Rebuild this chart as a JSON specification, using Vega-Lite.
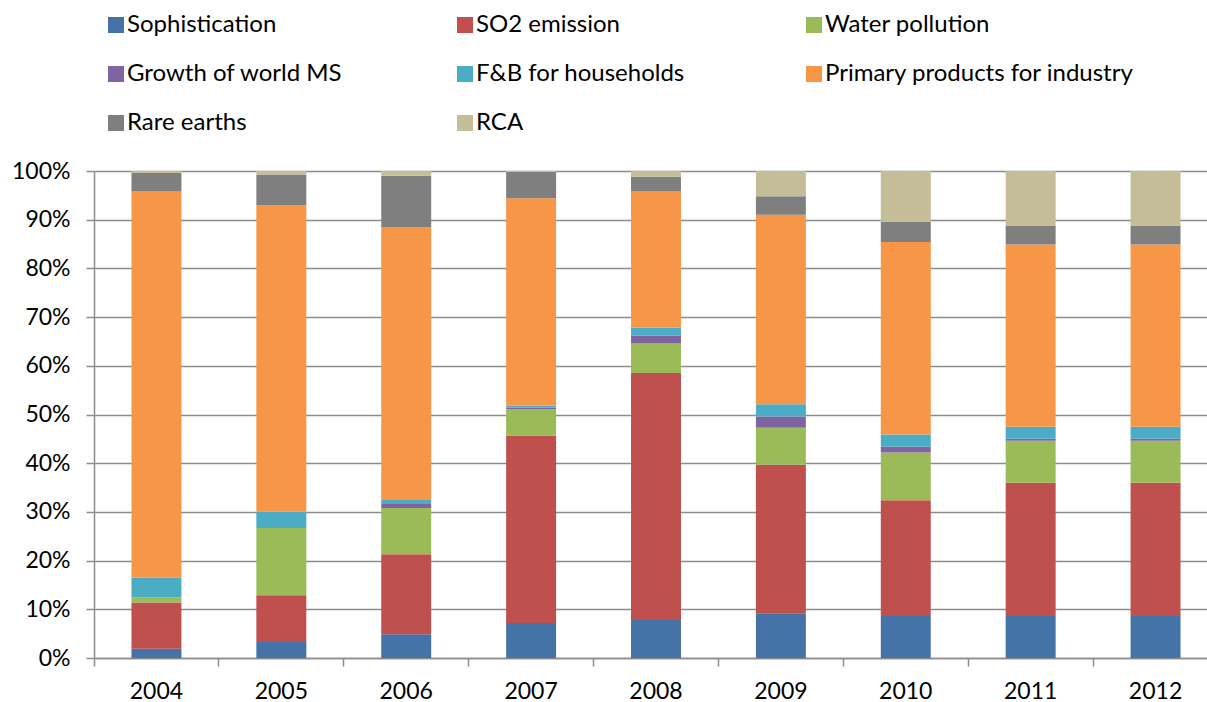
{
  "$schema": "https://vega.github.io/schema/vega-lite/v6.json",
  "autosize": {"type": "none"},
  "padding": {"left": 94, "top": 171, "right": 0, "bottom": 44},
  "width": 1113,
  "height": 487,
  "background": "white",
  "config": {
    "view": {"stroke": null},
    "font": "Lato",
    "axis": {"labelFont": "Lato", "labelFontSize": 23, "labelColor": "#000000"}
  },
  "datasets": {
    "shares": [
      {"year": "2004", "indicator": "Sophistication", "share": 1.9},
      {"year": "2004", "indicator": "SO2 emission", "share": 9.5},
      {"year": "2004", "indicator": "Water pollution", "share": 1.0},
      {"year": "2004", "indicator": "Growth of world MS", "share": 0.0},
      {"year": "2004", "indicator": "F&B for households", "share": 4.1},
      {"year": "2004", "indicator": "Primary products for industry", "share": 79.3},
      {"year": "2004", "indicator": "Rare earths", "share": 3.8},
      {"year": "2004", "indicator": "RCA", "share": 0.4},
      {"year": "2005", "indicator": "Sophistication", "share": 3.3},
      {"year": "2005", "indicator": "SO2 emission", "share": 9.6},
      {"year": "2005", "indicator": "Water pollution", "share": 13.8},
      {"year": "2005", "indicator": "Growth of world MS", "share": 0.0},
      {"year": "2005", "indicator": "F&B for households", "share": 3.4},
      {"year": "2005", "indicator": "Primary products for industry", "share": 62.9},
      {"year": "2005", "indicator": "Rare earths", "share": 6.3},
      {"year": "2005", "indicator": "RCA", "share": 0.7},
      {"year": "2006", "indicator": "Sophistication", "share": 4.9},
      {"year": "2006", "indicator": "SO2 emission", "share": 16.4},
      {"year": "2006", "indicator": "Water pollution", "share": 9.5},
      {"year": "2006", "indicator": "Growth of world MS", "share": 0.8},
      {"year": "2006", "indicator": "F&B for households", "share": 1.0},
      {"year": "2006", "indicator": "Primary products for industry", "share": 55.9},
      {"year": "2006", "indicator": "Rare earths", "share": 10.5},
      {"year": "2006", "indicator": "RCA", "share": 1.0},
      {"year": "2007", "indicator": "Sophistication", "share": 7.2},
      {"year": "2007", "indicator": "SO2 emission", "share": 38.5},
      {"year": "2007", "indicator": "Water pollution", "share": 5.4},
      {"year": "2007", "indicator": "Growth of world MS", "share": 0.3},
      {"year": "2007", "indicator": "F&B for households", "share": 0.4},
      {"year": "2007", "indicator": "Primary products for industry", "share": 42.6},
      {"year": "2007", "indicator": "Rare earths", "share": 5.4},
      {"year": "2007", "indicator": "RCA", "share": 0.2},
      {"year": "2008", "indicator": "Sophistication", "share": 7.8},
      {"year": "2008", "indicator": "SO2 emission", "share": 50.7},
      {"year": "2008", "indicator": "Water pollution", "share": 6.1},
      {"year": "2008", "indicator": "Growth of world MS", "share": 1.6},
      {"year": "2008", "indicator": "F&B for households", "share": 1.6},
      {"year": "2008", "indicator": "Primary products for industry", "share": 28.0},
      {"year": "2008", "indicator": "Rare earths", "share": 3.0},
      {"year": "2008", "indicator": "RCA", "share": 1.2},
      {"year": "2009", "indicator": "Sophistication", "share": 9.2},
      {"year": "2009", "indicator": "SO2 emission", "share": 30.5},
      {"year": "2009", "indicator": "Water pollution", "share": 7.6},
      {"year": "2009", "indicator": "Growth of world MS", "share": 2.3},
      {"year": "2009", "indicator": "F&B for households", "share": 2.5},
      {"year": "2009", "indicator": "Primary products for industry", "share": 38.9},
      {"year": "2009", "indicator": "Rare earths", "share": 3.8},
      {"year": "2009", "indicator": "RCA", "share": 5.2},
      {"year": "2010", "indicator": "Sophistication", "share": 8.6},
      {"year": "2010", "indicator": "SO2 emission", "share": 23.8},
      {"year": "2010", "indicator": "Water pollution", "share": 9.8},
      {"year": "2010", "indicator": "Growth of world MS", "share": 1.2},
      {"year": "2010", "indicator": "F&B for households", "share": 2.5},
      {"year": "2010", "indicator": "Primary products for industry", "share": 39.5},
      {"year": "2010", "indicator": "Rare earths", "share": 4.2},
      {"year": "2010", "indicator": "RCA", "share": 10.4},
      {"year": "2011", "indicator": "Sophistication", "share": 8.6},
      {"year": "2011", "indicator": "SO2 emission", "share": 27.4},
      {"year": "2011", "indicator": "Water pollution", "share": 8.6},
      {"year": "2011", "indicator": "Growth of world MS", "share": 0.4},
      {"year": "2011", "indicator": "F&B for households", "share": 2.5},
      {"year": "2011", "indicator": "Primary products for industry", "share": 37.4},
      {"year": "2011", "indicator": "Rare earths", "share": 3.9},
      {"year": "2011", "indicator": "RCA", "share": 11.2},
      {"year": "2012", "indicator": "Sophistication", "share": 8.6},
      {"year": "2012", "indicator": "SO2 emission", "share": 27.4},
      {"year": "2012", "indicator": "Water pollution", "share": 8.6},
      {"year": "2012", "indicator": "Growth of world MS", "share": 0.4},
      {"year": "2012", "indicator": "F&B for households", "share": 2.5},
      {"year": "2012", "indicator": "Primary products for industry", "share": 37.4},
      {"year": "2012", "indicator": "Rare earths", "share": 3.9},
      {"year": "2012", "indicator": "RCA", "share": 11.2}
    ]
  },
  "data": {"name": "shares"},
  "transform": [
    {"window": [{"op": "row_number", "as": "stack_rank"}], "groupby": ["year"]}
  ],
  "mark": {"type": "bar"},
  "encoding": {
    "x": {
      "field": "year",
      "type": "nominal",
      "title": null,
      "scale": {"range": [0, 1124], "paddingInner": 0.6, "paddingOuter": 0.3},
      "axis": {
        "labelAngle": 0,
        "bandPosition": -0.75,
        "labelOffset": 0,
        "domainColor": "#8c8c8c",
        "domainWidth": 1.5,
        "tickColor": "#8c8c8c",
        "tickWidth": 1.5,
        "tickSize": 8,
        "labelPadding": 14,
        "grid": false
      }
    },
    "y": {
      "field": "share",
      "type": "quantitative",
      "stack": "normalize",
      "title": null,
      "scale": {"domain": [0, 1]},
      "axis": {
        "values": [0, 0.1, 0.2, 0.3, 0.4, 0.5, 0.6, 0.7, 0.8, 0.9, 1],
        "format": ".0%",
        "domainColor": "#8c8c8c",
        "domainWidth": 1.5,
        "tickColor": "#8c8c8c",
        "tickWidth": 1.5,
        "tickSize": 8,
        "labelPadding": 16,
        "gridColor": "#8c8c8c",
        "gridWidth": 1.5
      }
    },
    "color": {
      "field": "indicator",
      "type": "nominal",
      "sort": ["Sophistication", "SO2 emission", "Water pollution", "Growth of world MS", "F&B for households", "Primary products for industry", "Rare earths", "RCA"],
      "scale": {
        "domain": ["Sophistication", "SO2 emission", "Water pollution", "Growth of world MS", "F&B for households", "Primary products for industry", "Rare earths", "RCA"],
        "range": ["#4572A7", "#C0504D", "#9BBB59", "#8064A2", "#4BACC6", "#F79646", "#7F7F7F", "#C4BD97"]
      },
      "legend": {
        "title": null,
        "orient": "none",
        "legendX": 10,
        "legendY": -158,
        "direction": "horizontal",
        "columns": 3,
        "gridAlign": "all",
        "columnPadding": 17,
        "rowPadding": 25,
        "padding": 0,
        "symbolType": "square",
        "symbolSize": 256,
        "symbolStrokeWidth": 0,
        "labelFont": "Lato",
        "labelFontSize": 24,
        "labelColor": "#000000",
        "labelOffset": -1,
        "labelLimit": 400
      }
    },
    "order": {"field": "stack_rank", "type": "quantitative", "sort": "ascending"}
  }
}
